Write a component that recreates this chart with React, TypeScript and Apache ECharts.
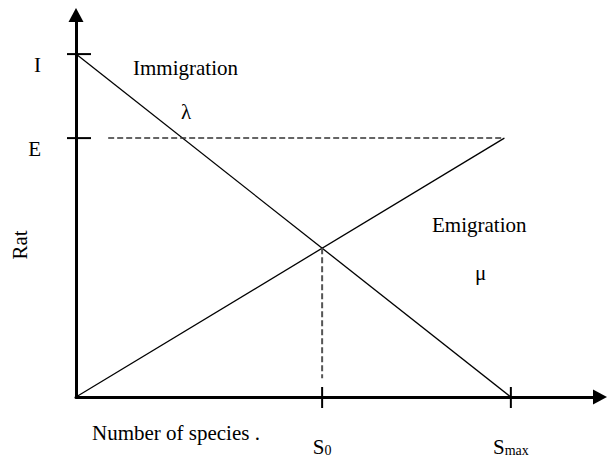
import React, { useEffect, useRef } from 'react';
import * as echarts from 'echarts';

// Conceptual MacArthur–Wilson island model (units: Smax = 100, I = 100)
const SMAX = 100;
const S0 = 56.6;
const I_RATE = 100;
const E_RATE = 75.5;
const X_MAX = 120.5;
const Y_MAX = 111.4;

const immigrationX = [0, SMAX];
const immigrationY = [I_RATE, 0];
const emigrationX = [0, 98.5];
const emigrationY = [0, E_RATE];
const eGuideX = [7.4, 98.5];
const eGuideY = [E_RATE, E_RATE];
const s0GuideX = [S0, S0];
const s0GuideY = [43.4, 5.5];

const xTickValues = [S0, SMAX];
const xTickSubs = ['0', 'max'];
const yTickValues = [I_RATE, E_RATE];
const yTickLabels = ['I', 'E'];

const FONT = '"Liberation Serif", "Times New Roman", serif';

const zip = (xs: number[], ys: number[]) => xs.map((x, i) => [x, ys[i]]);
const findIdx = (arr: number[], v: any) => arr.findIndex((a) => Math.abs(a - Number(v)) < 1e-6);

export default function App() {
  const ref = useRef<HTMLDivElement>(null);
  useEffect(() => {
    if (!ref.current) return;
    const chart = echarts.init(ref.current, null, { renderer: 'svg' });
    const txt = (text: string, x: number, y: number, extra: any = {}) => ({
      type: 'text',
      x,
      y,
      ...extra,
      style: {
        text,
        fill: '#000',
        font: `21px ${FONT}`,
        textAlign: 'left',
        textVerticalAlign: 'middle',
        ...(extra.style || {}),
      },
    });
    const option: any = {
      animation: false,
      grid: { left: 76, right: 10, top: 15, bottom: 62 },
      xAxis: {
        type: 'value',
        min: 0,
        max: X_MAX,
        axisLine: {
          show: true,
          onZero: false,
          symbol: ['none', 'triangle'],
          symbolSize: [15, 14],
          lineStyle: { color: '#000', width: 3 },
        },
        axisTick: { show: false },
        splitLine: { show: false },
        axisLabel: {
          show: true,
          customValues: xTickValues,
          margin: 39,
          verticalAlign: 'top',
          formatter: (v: any) => {
            const i = findIdx(xTickValues, v);
            return i < 0 ? '' : `{s|S}{sub|${xTickSubs[i]}}`;
          },
          rich: {
            s: { fontFamily: FONT, fontSize: 21, color: '#000' },
            sub: { fontFamily: FONT, fontSize: 14, color: '#000', verticalAlign: 'bottom' },
          },
        },
      },
      yAxis: {
        type: 'value',
        min: 0,
        max: Y_MAX,
        axisLine: {
          show: true,
          onZero: false,
          symbol: ['none', 'triangle'],
          symbolSize: [15, 14],
          lineStyle: { color: '#000', width: 3 },
        },
        axisTick: { show: false },
        splitLine: { show: false },
        axisLabel: {
          show: true,
          customValues: yTickValues,
          margin: 35,
          verticalAlign: 'top',
          fontFamily: FONT,
          fontSize: 21,
          color: '#000',
          formatter: (v: any) => {
            const i = findIdx(yTickValues, v);
            return i < 0 ? '' : yTickLabels[i];
          },
        },
      },
      series: [
        {
          type: 'line',
          data: zip(immigrationX, immigrationY),
          symbol: 'none',
          lineStyle: { color: '#000', width: 1.3 },
          silent: true,
        },
        {
          type: 'line',
          data: zip(emigrationX, emigrationY),
          symbol: 'none',
          lineStyle: { color: '#000', width: 1.3 },
          silent: true,
        },
        {
          type: 'line',
          data: zip(eGuideX, eGuideY),
          symbol: 'none',
          lineStyle: { color: '#333', width: 1.5, type: [6, 3] },
          silent: true,
        },
        {
          type: 'line',
          data: zip(s0GuideX, s0GuideY),
          symbol: 'none',
          lineStyle: { color: '#555', width: 2, type: [6, 3] },
          silent: true,
        },
        {
          type: 'custom',
          silent: true,
          z: 5,
          data: xTickValues.map((v) => [v, 0]),
          renderItem: (_p: any, api: any) => {
            const p = api.coord([api.value(0), api.value(1)]);
            return {
              type: 'line',
              shape: { x1: p[0], y1: p[1] - 10, x2: p[0], y2: p[1] + 11 },
              style: { stroke: '#000', lineWidth: 2 },
            };
          },
        },
        {
          type: 'custom',
          silent: true,
          z: 5,
          data: yTickValues.map((v) => [0, v]),
          renderItem: (_p: any, api: any) => {
            const p = api.coord([api.value(0), api.value(1)]);
            return {
              type: 'line',
              shape: { x1: p[0] - 9, y1: p[1], x2: p[0] + 15, y2: p[1] },
              style: { stroke: '#000', lineWidth: 2 },
            };
          },
        },
      ],
      graphic: [
        txt('Immigration', 133, 68),
        txt('λ', 181, 112),
        txt('Emigration', 432, 225),
        txt('μ', 475, 273),
        txt('Number of species .', 92, 433),
        txt('Rat', 20, 245, { rotation: Math.PI / 2, style: { textAlign: 'center' } }),
      ],
    };
    chart.setOption(option);
    return () => chart.dispose();
  }, []);
  return (
    <div
      ref={ref}
      style={{ position: 'fixed', left: 0, top: 0, width: 610, height: 459, background: '#fff' }}
    />
  );
}
